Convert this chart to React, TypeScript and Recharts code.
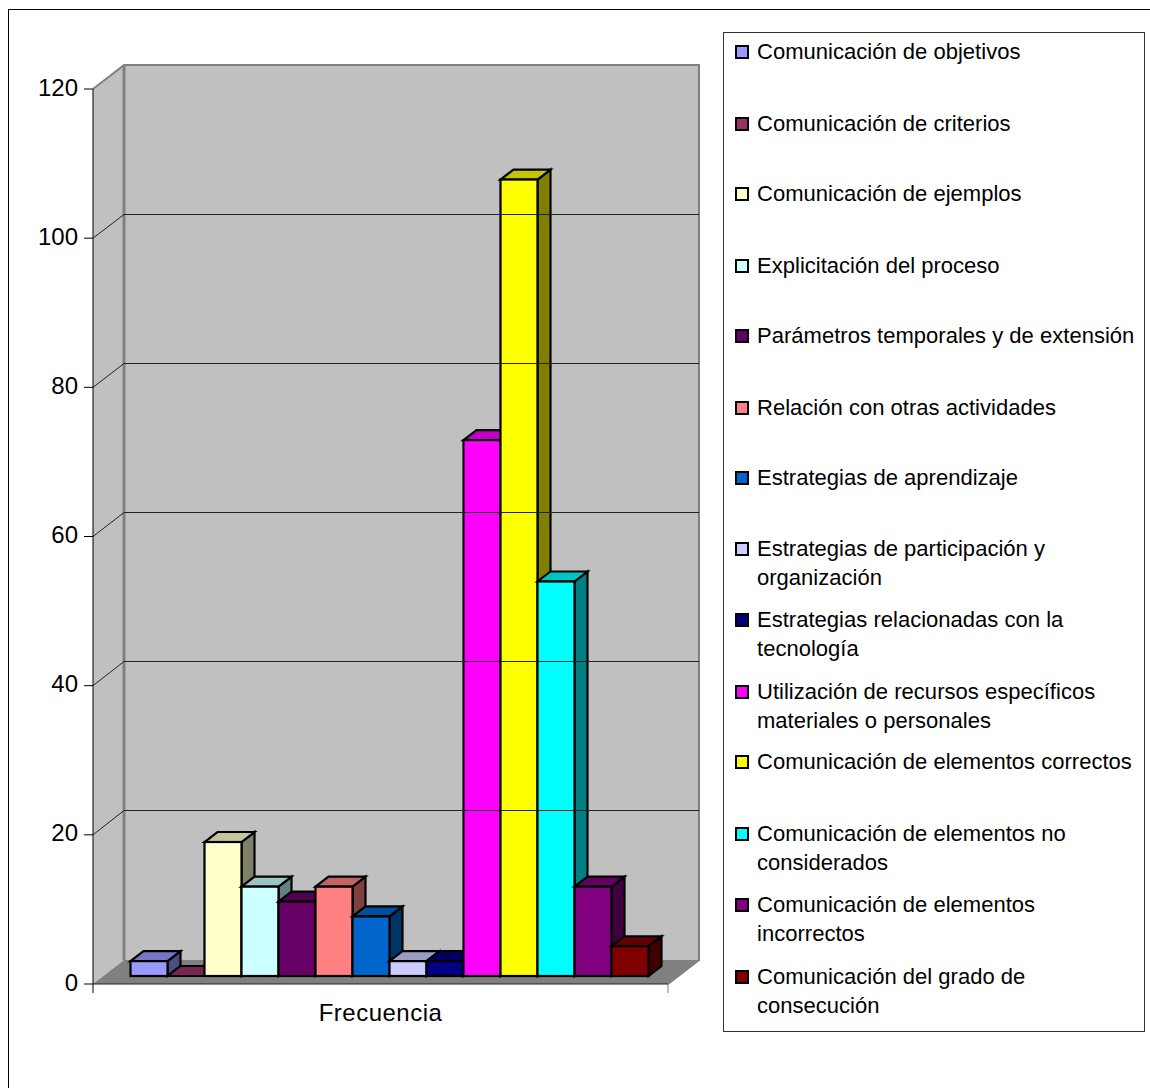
import { BarChart, Bar, XAxis, YAxis, ReferenceArea, ReferenceLine, Legend } from 'recharts';

const seriesNames = [
  'Comunicación de objetivos',
  'Comunicación de criterios',
  'Comunicación de ejemplos',
  'Explicitación del proceso',
  'Parámetros temporales y de extensión',
  'Relación con otras actividades',
  'Estrategias de aprendizaje',
  'Estrategias de participación y organización',
  'Estrategias relacionadas con la tecnología',
  'Utilización de recursos específicos materiales o personales',
  'Comunicación de elementos correctos',
  'Comunicación de elementos no considerados',
  'Comunicación de elementos incorrectos',
  'Comunicación del grado de consecución',
];
const seriesValues = [2, 0, 18, 12, 10, 12, 8, 2, 2, 72, 107, 53, 12, 4];
const seriesColors = [
  '#9999FF', '#993366', '#FFFFCC', '#CCFFFF', '#660066', '#FF8080', '#0066CC',
  '#CCCCFF', '#000080', '#FF00FF', '#FFFF00', '#00FFFF', '#800080', '#800000',
];
const yTicks = [0, 20, 40, 60, 80, 100, 120];
const gridValues = [20, 40, 60, 80, 100];
const category = 'Frecuencia';

const row: Record<string, string | number> = { name: category };
seriesNames.forEach((n, i) => {
  row[n] = seriesValues[i];
});
const data = [row];

const FONT = '"Liberation Sans", Arial, sans-serif';
const WALL_DX = 31;
const WALL_DY = -24;
const BAR_DX = 10;
const BAR_DY = -8;
const DEPTH_X = 13;
const DEPTH_Y = -10;
// las barras están más al fondo que el eje frontal, salen un poco más bajas
const BAR_FORESHORTEN = 0.998;
const LEGEND_LINE_CENTRES = [51, 123, 193, 265, 335, 407, 477, 548, 619, 691, 761, 833, 904, 976];

function shade(hex: string, k: number) {
  const n = parseInt(hex.slice(1), 16);
  const c = [(n >> 16) & 255, (n >> 8) & 255, n & 255].map((v) => Math.round(v * k));
  return `rgb(${c[0]},${c[1]},${c[2]})`;
}

// paredes y suelo del falso 3D, a partir del área del gráfico
function WallShape({ x, y, width, height }: any) {
  const b = y + height;
  const r = x + width;
  const pts = (p: number[][]) => p.map((q) => q.join(',')).join(' ');
  return (
    <g>
      <polygon
        points={pts([[x, y], [x + WALL_DX, y + WALL_DY], [x + WALL_DX, b + WALL_DY], [x, b]])}
        fill="#C0C0C0"
      />
      <rect x={x + WALL_DX} y={y + WALL_DY} width={width} height={height} fill="#C0C0C0" />
      <polygon
        points={pts([[x, b], [x + WALL_DX, b + WALL_DY], [r + WALL_DX, b + WALL_DY], [r, b]])}
        fill="#808080"
      />
      <polyline
        points={pts([[x, y], [x + WALL_DX, y + WALL_DY], [r + WALL_DX, y + WALL_DY], [r + WALL_DX, b + WALL_DY], [r, b]])}
        fill="none"
        stroke="#808080"
        strokeWidth={2}
      />
      <line x1={x + WALL_DX} y1={y + WALL_DY} x2={x + WALL_DX} y2={b + WALL_DY} stroke="#808080" strokeWidth={3} />
      <line x1={x} y1={b} x2={x} y2={b + 9} stroke="#000" />
      <line x1={r} y1={b} x2={r} y2={b + 9} stroke="#808080" />
    </g>
  );
}

function GridShape({ x1, y1, x2 }: any) {
  const back = Math.floor(y1 + WALL_DY) + 0.5;
  return (
    <polyline
      points={`${x1},${y1} ${x1 + WALL_DX},${back} ${x2 + WALL_DX},${back}`}
      fill="none"
      stroke="#222222"
      strokeWidth={1}
    />
  );
}

function Bar3D({ x, y, width, height, fill }: any) {
  const l = x + BAR_DX;
  const r = l + width;
  const b = y + height + BAR_DY;
  const t = b - height * BAR_FORESHORTEN;
  const line = { stroke: '#000', strokeWidth: 2.2, strokeLinejoin: 'miter' as const };
  return (
    <g>
      <polygon
        points={`${r},${t} ${r + DEPTH_X},${t + DEPTH_Y} ${r + DEPTH_X},${b + DEPTH_Y} ${r},${b}`}
        fill={shade(fill, 0.5)}
        {...line}
      />
      <polygon
        points={`${l},${t} ${l + DEPTH_X},${t + DEPTH_Y} ${r + DEPTH_X},${t + DEPTH_Y} ${r},${t}`}
        fill={shade(fill, 0.77)}
        {...line}
      />
      <rect x={l} y={t} width={width} height={b - t} fill={fill} {...line} />
    </g>
  );
}

function LegendBox({ payload }: any) {
  return (
    <div
      style={{
        position: 'relative',
        width: 422,
        height: 1000,
        boxSizing: 'border-box',
        border: '1px solid #333',
        background: '#fff',
        fontFamily: FONT,
        fontSize: 22,
        lineHeight: '29px',
        letterSpacing: 0.02,
        color: '#000',
      }}
    >
      {(payload || []).map((item: any, i: number) => (
        <div
          key={item.value}
          style={{ position: 'absolute', left: 11, top: LEGEND_LINE_CENTRES[i] - 32 - 1 - 14.5, display: 'flex' }}
        >
          <span
            style={{
              width: 14,
              height: 14,
              marginTop: 8,
              marginRight: 8,
              boxSizing: 'border-box',
              border: '2px solid #000',
              background: item.color,
              flex: 'none',
            }}
          />
          <span style={{ width: 385 }}>{item.value}</span>
        </div>
      ))}
    </div>
  );
}

export default function App() {
  return (
    <div style={{ position: 'absolute', left: 0, top: 0, width: 1150, height: 1088, overflow: 'hidden', background: '#fff' }}>
      <div
        style={{
          position: 'absolute',
          left: 8,
          top: 9,
          width: 1142,
          height: 1079,
          borderLeft: '1px solid #000',
          borderTop: '1px solid #000',
          boxSizing: 'border-box',
        }}
      />
      <BarChart
        width={1150}
        height={1088}
        data={data}
        margin={{ top: 89, right: 482, bottom: 0, left: 0 }}
        barCategoryGap={27.5}
        barGap={0}
        style={{ position: 'absolute', left: 0, top: 0 }}
      >
        <ReferenceArea y1={0} y2={120} shape={WallShape} ifOverflow="visible" />
        {gridValues.map((v) => (
          <ReferenceLine key={v} y={v} shape={GridShape} ifOverflow="visible" />
        ))}
        <XAxis
          dataKey="name"
          height={104}
          tickLine={false}
          axisLine={{ stroke: '#222', strokeWidth: 1 }}
          tickMargin={14}
          tick={{ fill: '#000', fontSize: 24, fontFamily: FONT, letterSpacing: 0.5 }}
        />
        <YAxis
          width={93}
          domain={[0, 120]}
          ticks={yTicks}
          interval={0}
          tickSize={9}
          tickMargin={6}
          axisLine={{ stroke: '#000' }}
          tickLine={{ stroke: '#000' }}
          tick={{ fill: '#000', fontSize: 24, fontFamily: FONT, dy: -2 }}
        />
        {seriesNames.map((n, i) => (
          <Bar key={n} dataKey={n} name={n} fill={seriesColors[i]} shape={Bar3D} isAnimationActive={false} />
        ))}
        <Legend
          layout="vertical"
          align="center"
          verticalAlign="middle"
          itemSorter={null}
          content={LegendBox}
          wrapperStyle={{ left: 723, top: 32, width: 422, height: 1000, margin: 0 }}
        />
      </BarChart>
    </div>
  );
}
